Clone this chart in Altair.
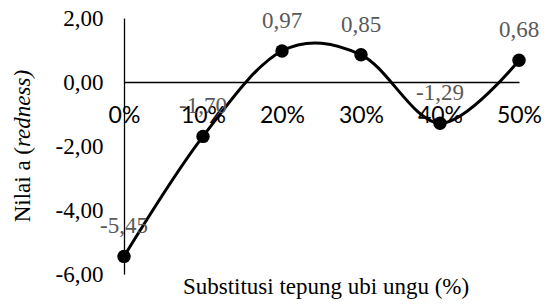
import altair as alt
import pandas as pd

categories = ["0%", "10%", "20%", "30%", "40%", "50%"]
values = [-5.45, -1.70, 0.97, 0.85, -1.29, 0.68]
y_ticks = [-6, -4, -2, 0, 2]
x_title = "Substitusi tepung ubi ungu (%)"
y_title_plain = "Nilai a ("
y_title_italic = "redness)"

W, H = 395, 256
LEFT = 116
SERIF = "Liberation Serif"
FMT = "(({v}) < 0 ? '-' : '') + replace(format(abs({v}), '.2f'), '.', ',')"

df = pd.DataFrame({"cat": categories, "v": values})

x_enc = alt.X("cat:N", sort=categories,
              scale=alt.Scale(type="point", padding=0),
              axis=alt.Axis(title=None, ticks=False, grid=False, labelAngle=0,
                            labelOverlap=False, labelFont="Lato", labelFontSize=23,
                            labelColor="black", labelPadding=22, domainColor="black",
                            domainWidth=1.3, offset=-(H * 6 / 8)))
y_enc = alt.Y("v:Q", scale=alt.Scale(domain=[-6, 2], nice=False, zero=False),
              axis=alt.Axis(title=None, values=y_ticks, ticks=False, grid=False,
                            labelExpr=FMT.format(v="datum.value"),
                            labelFont=SERIF, labelFontSize=23, labelColor="black",
                            labelPadding=21, domainColor="black", domainWidth=1.3))

base = alt.Chart(df).encode(x=x_enc, y=y_enc)

line = base.mark_line(interpolate="cardinal", tension=0, color="black", strokeWidth=3)
pts = base.mark_circle(size=180, color="black", opacity=1)
labels = base.transform_calculate(
    lab=FMT.format(v="datum.v")
).mark_text(dy=-30, font=SERIF, fontSize=23, color="#595959").encode(text="lab:N")

xt = alt.Chart(pd.DataFrame({"t": [x_title]})).mark_text(
    font=SERIF, fontSize=23, color="black", baseline="alphabetic", align="center"
).encode(text="t:N", x=alt.value(318 - LEFT), y=alt.value(276))

yt1 = alt.Chart(pd.DataFrame({"t": [y_title_plain]})).mark_text(
    font=SERIF, fontSize=23, color="black", angle=270, align="right", baseline="middle"
).encode(text="t:N", x=alt.value(15 - LEFT), y=alt.value(129))
yt2 = alt.Chart(pd.DataFrame({"t": [y_title_italic]})).mark_text(
    font=SERIF, fontSize=23, fontStyle="italic", color="black", angle=270,
    align="left", baseline="middle"
).encode(text="t:N", x=alt.value(15 - LEFT), y=alt.value(129))

chart = alt.layer(line, pts, labels, xt, yt1, yt2).properties(
    width=W, height=H,
    padding={"left": LEFT, "top": 10, "right": 534 - LEFT - W, "bottom": 25},
    autosize=alt.AutoSizeParams(type="none"),
).configure_view(stroke=None)

chart.save("out.html", embed_options={"renderer": "svg", "actions": False})
